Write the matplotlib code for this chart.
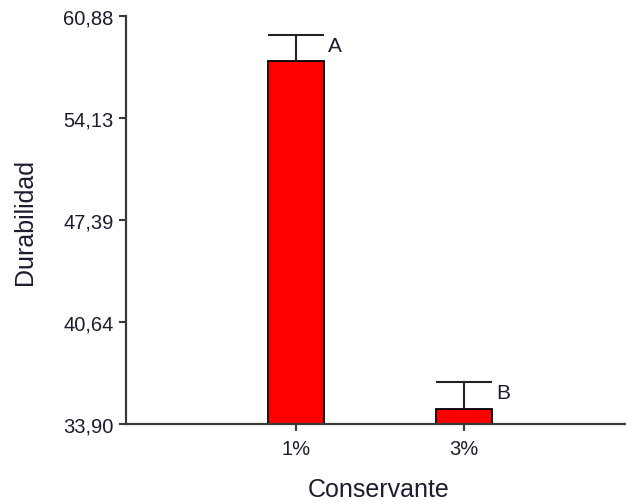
import matplotlib
matplotlib.use("Agg")
import matplotlib.pyplot as plt
from matplotlib.transforms import offset_copy

# Mean durability per preservative level, with upper error and grouping letters
categories = ["1%", "3%"]
means = [57.88, 34.90]
errors = [1.76, 1.77]
groups = ["A", "B"]
yticks = [33.90, 40.64, 47.39, 54.13, 60.88]
ytick_labels = ["33,90", "40,64", "47,39", "54,13", "60,88"]

plt.rcParams["font.family"] = ["Liberation Sans", "DejaVu Sans"]
text_color = "#1c1c30"
axis_color = "#3a3a3a"

W, H = 626, 502
fig = plt.figure(figsize=(W / 100, H / 100), dpi=100)
ax = fig.add_axes([126 / W, 77 / H, 500 / W, 408 / H])

x = list(range(len(categories)))
width = 0.333
ax.bar(x, means, width=width, bottom=0, color="#ff0000", edgecolor="black",
       linewidth=1.3, zorder=2)
ax.errorbar(x, means, yerr=[[0] * len(means), errors], fmt="none",
            ecolor="#222222", elinewidth=1.5, capsize=0, zorder=3)

# caps spanning the full bar width
tops = [m + e for m, e in zip(means, errors)]
for xi, t in zip(x, tops):
    ax.hlines(t, xi - width / 2, xi + width / 2, color="#222222", lw=1.5, zorder=3)

# group letters next to each cap
trans = offset_copy(ax.transData, fig=fig, x=4, y=-1, units="dots")
for xi, t, g in zip(x, tops, groups):
    ax.text(xi + width / 2, t, g, transform=trans, ha="left", va="top",
            fontsize=15, color=text_color)

ax.set_ylim(yticks[0], yticks[-1])
ax.set_xlim(-1.012, 1.964)
ax.set_yticks(yticks)
ax.set_yticklabels(ytick_labels)
ax.set_xticks(x)
ax.set_xticklabels(categories)

for side in ["top", "right"]:
    ax.spines[side].set_visible(False)
for side in ["left", "bottom"]:
    ax.spines[side].set_color(axis_color)
    ax.spines[side].set_linewidth(1.6)
ax.tick_params(axis="both", direction="out", length=5, width=1.5,
               color=axis_color, labelsize=14.5, labelcolor=text_color, pad=4)
ax.tick_params(axis="x", pad=6)

# axis titles
fig.text(379 / W, 1 - 497 / H, "Conservante", fontsize=18, color=text_color,
         ha="center", va="baseline")
fig.text(32 / W, 1 - 222 / H, "Durabilidad", fontsize=18, color=text_color,
         ha="center", va="baseline", rotation=90, rotation_mode="anchor")

fig.savefig("out.png", dpi=100)
